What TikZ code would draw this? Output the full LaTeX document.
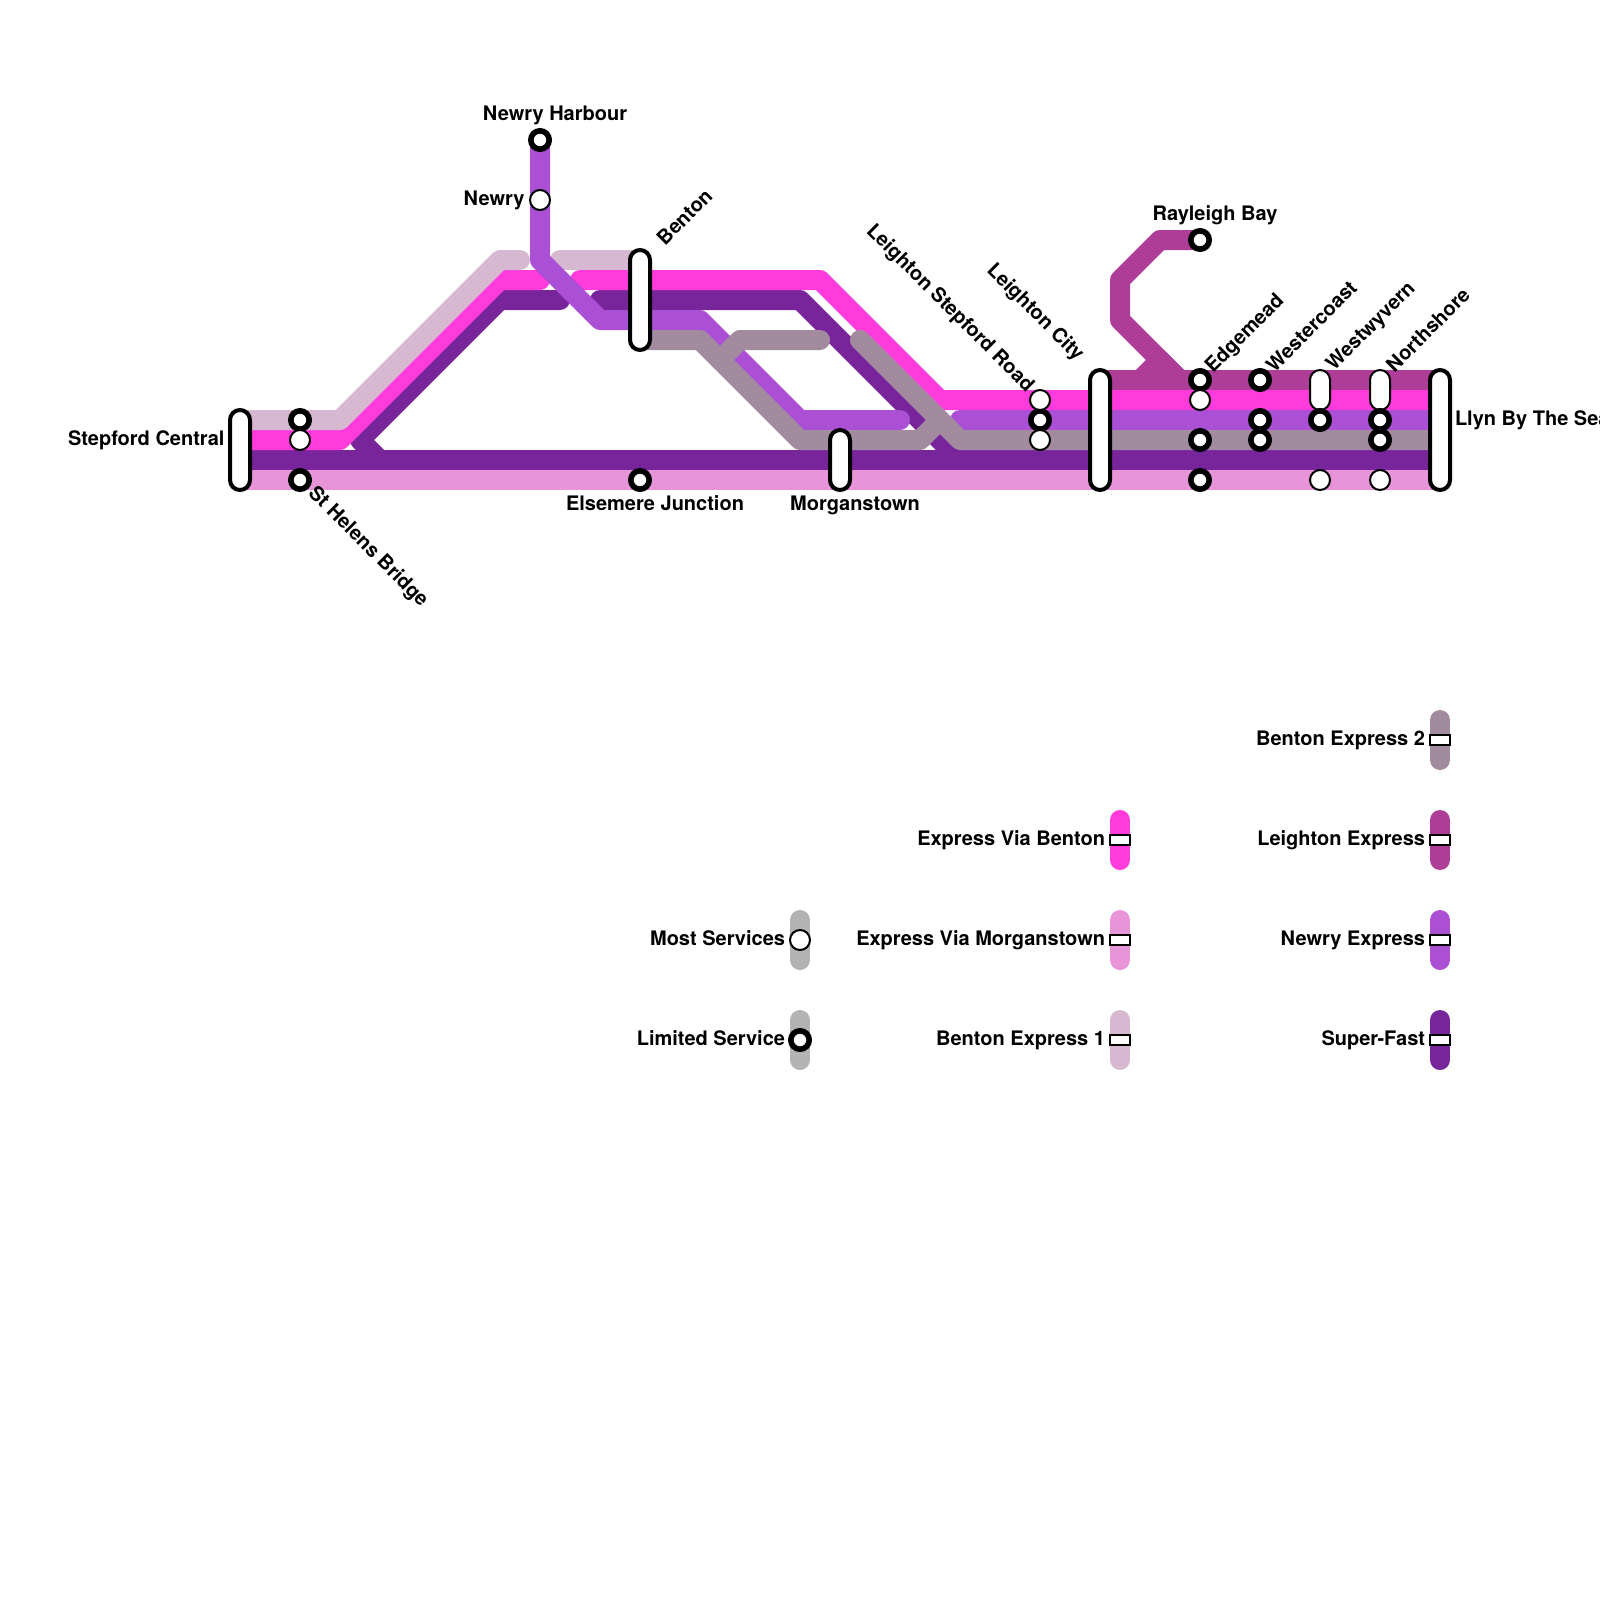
\documentclass[tikz,border=0pt]{standalone}
\usepackage{fontspec}
\setmainfont{TeX Gyre Heros}
\definecolor{cBentonA}{HTML}{D6B9D0}
\definecolor{cMagenta}{HTML}{FF3BDC}
\definecolor{cPink}{HTML}{E894D8}
\definecolor{cDeep}{HTML}{78249B}
\definecolor{cNewry}{HTML}{AB50D5}
\definecolor{cBentonB}{HTML}{A28A9F}
\definecolor{cLeighton}{HTML}{AD3D97}
\definecolor{cKey}{HTML}{B3B3B3}
\tikzset{
  track/.style={line width=10pt,line join=round,line cap=round},
  keybar/.style={line width=10pt,line cap=round},
  limited/.style={circle,draw=black,fill=white,line width=2.8pt,minimum size=9.2pt,inner sep=0pt,outer sep=0pt},
  most/.style={circle,draw=black,fill=white,line width=1pt,minimum size=10pt,inner sep=0pt,outer sep=0pt},
  hub/.style={rectangle,rounded corners=5pt,draw=black,fill=white,line width=2pt,minimum width=10pt,inner sep=0pt,outer sep=0pt},
  thinhub/.style={rectangle,rounded corners=5pt,draw=black,fill=white,line width=1pt,minimum width=10pt,minimum height=20pt,inner sep=0pt,outer sep=0pt},
  keytag/.style={rectangle,draw=black,fill=white,line width=1pt,minimum width=10pt,minimum height=5pt,inner sep=0pt,outer sep=0pt},
  lbl/.style={inner sep=0pt,outer sep=0pt,font=\fontsize{10}{12}\selectfont\bfseries},
}
\begin{document}
\begin{tikzpicture}[x=0.5pt,y=-0.5pt]
\useasboundingbox (0,0) rectangle (1600,1600);
% tracks
\draw[track,cPink] (240,480) -- (1440,480);
\draw[track,cDeep] (240,460) -- (1440,460);
\draw[track,cDeep] (380,460) -- (360,440) -- (500,300) -- (560,300);
\draw[track,cDeep] (600,300) -- (800,300) -- (960,460);
\draw[track,cMagenta] (240,440) -- (340,440) -- (500,280) -- (540,280);
\draw[track,cMagenta] (580,280) -- (820,280) -- (940,400) -- (1440,400);
\draw[track,cBentonA] (240,420) -- (340,420) -- (500,260) -- (520,260);
\draw[track,cBentonA] (560,260) -- (640,260);
\draw[track,cNewry] (540,140) -- (540,260) -- (600,320) -- (700,320) -- (800,420) -- (900,420);
\draw[track,cNewry] (960,420) -- (1440,420);
\draw[track,cBentonB] (640,340) -- (700,340) -- (800,440) -- (920,440) -- (940,420) -- (960,440) -- (1440,440);
\draw[track,cBentonB] (860,340) -- (940,420);
\draw[track,cBentonB] (820,340) -- (740,340) -- (720,360);
\draw[track,cLeighton] (1200,240) -- (1160,240) -- (1120,280) -- (1120,320) -- (1180,380);
\draw[track,cLeighton] (1100,380) -- (1440,380);
\draw[track,cLeighton] (1140,380) -- (1160,360) -- (1180,380);
% stations
\node[hub,minimum height=40pt] (stepford) at (240,450) {};
\node[hub,minimum height=50pt] (benton) at (640,300) {};
\node[hub,minimum height=30pt] (morgan) at (840,460) {};
\node[hub,minimum height=60pt] (midhub) at (1100,430) {};
\node[hub,minimum height=60pt] (llyn) at (1440,430) {};
\node[thinhub] (wwtop) at (1320,390) {};
\node[thinhub] (nstop) at (1380,390) {};
\node[limited] (sa) at (300,420) {};
\node[limited] (helens) at (300,480) {};
\node[limited] (elsemere) at (640,480) {};
\node[limited] (harbour) at (540,140) {};
\node[limited] (rayleigh) at (1200,240) {};
\node[limited] (lsb) at (1040,420) {};
\node[limited] (eda) at (1200,380) {};
\node[limited] (edc) at (1200,440) {};
\node[limited] (edd) at (1200,480) {};
\node[limited] (wca) at (1260,380) {};
\node[limited] (wcb) at (1260,420) {};
\node[limited] (wcc) at (1260,440) {};
\node[limited] (wwb) at (1320,420) {};
\node[limited] (nsb) at (1380,420) {};
\node[limited] (nsc) at (1380,440) {};
\node[most] (sb) at (300,440) {};
\node[most] (newry) at (540,200) {};
\node[most] (lsa) at (1040,400) {};
\node[most] (lsc) at (1040,440) {};
\node[most] (edb) at (1200,400) {};
\node[most] (wwc) at (1320,480) {};
\node[most] (nsd) at (1380,480) {};
% labels
\node[lbl,anchor=base east] (tStepford) at (224.5,445) {Stepford Central};
\node[lbl,anchor=base] (tHarbour) at (555,120) {Newry Harbour};
\node[lbl,anchor=base east] (tNewry) at (524.5,205) {Newry};
\node[lbl,anchor=base] (tElsemere) at (655,510) {Elsemere Junction};
\node[lbl,anchor=base] (tMorgan) at (855,510) {Morganstown};
\node[lbl,anchor=base] (tRayleigh) at (1215,220) {Rayleigh Bay};
\node[lbl,anchor=base west] (tLlyn) at (1455,425) {Llyn By The Sea};
\node[lbl,rotate=-45,anchor=north west] (tHelens) at (318,484) {St Helens Bridge};
\node[lbl,rotate=45,anchor=west] (tBenton) at (660,241) {Benton};
\node[lbl,rotate=-45,anchor=east] (tLSR) at (1030,389) {Leighton Stepford Road};
\node[lbl,rotate=-45,anchor=east] (tLC) at (1080,358) {Leighton City};
\node[lbl,rotate=45,anchor=west] (tEdge) at (1209.5,370) {Edgemead};
\node[lbl,rotate=45,anchor=west] (tWest) at (1269.5,368) {Westercoast};
\node[lbl,rotate=45,anchor=west] (tWyv) at (1330.5,368) {Westwyvern};
\node[lbl,rotate=45,anchor=west] (tNorth) at (1389.5,368) {Northshore};
% key
\draw[keybar,cBentonB] (1440,720) -- (1440,760);
\node[keytag] (k1) at (1440,740) {};
\node[lbl,anchor=base east] (k1t) at (1425,745) {Benton Express 2};
\draw[keybar,cLeighton] (1440,820) -- (1440,860);
\node[keytag] (k2) at (1440,840) {};
\node[lbl,anchor=base east] (k2t) at (1425,845) {Leighton Express};
\draw[keybar,cNewry] (1440,920) -- (1440,960);
\node[keytag] (k3) at (1440,940) {};
\node[lbl,anchor=base east] (k3t) at (1425,945) {Newry Express};
\draw[keybar,cDeep] (1440,1020) -- (1440,1060);
\node[keytag] (k4) at (1440,1040) {};
\node[lbl,anchor=base east] (k4t) at (1425,1045) {Super-Fast};
\draw[keybar,cMagenta] (1120,820) -- (1120,860);
\node[keytag] (k5) at (1120,840) {};
\node[lbl,anchor=base east] (k5t) at (1105,845) {Express Via Benton};
\draw[keybar,cPink] (1120,920) -- (1120,960);
\node[keytag] (k6) at (1120,940) {};
\node[lbl,anchor=base east] (k6t) at (1105,945) {Express Via Morganstown};
\draw[keybar,cBentonA] (1120,1020) -- (1120,1060);
\node[keytag] (k7) at (1120,1040) {};
\node[lbl,anchor=base east] (k7t) at (1105,1045) {Benton Express 1};
\draw[keybar,cKey] (800,920) -- (800,960);
\node[most] (k8) at (800,940) {};
\node[lbl,anchor=base east] (k8t) at (785,945) {Most Services};
\draw[keybar,cKey] (800,1020) -- (800,1060);
\node[limited] (k9) at (800,1040) {};
\node[lbl,anchor=base east] (k9t) at (785,1045) {Limited Service};
\end{tikzpicture}
\end{document}
